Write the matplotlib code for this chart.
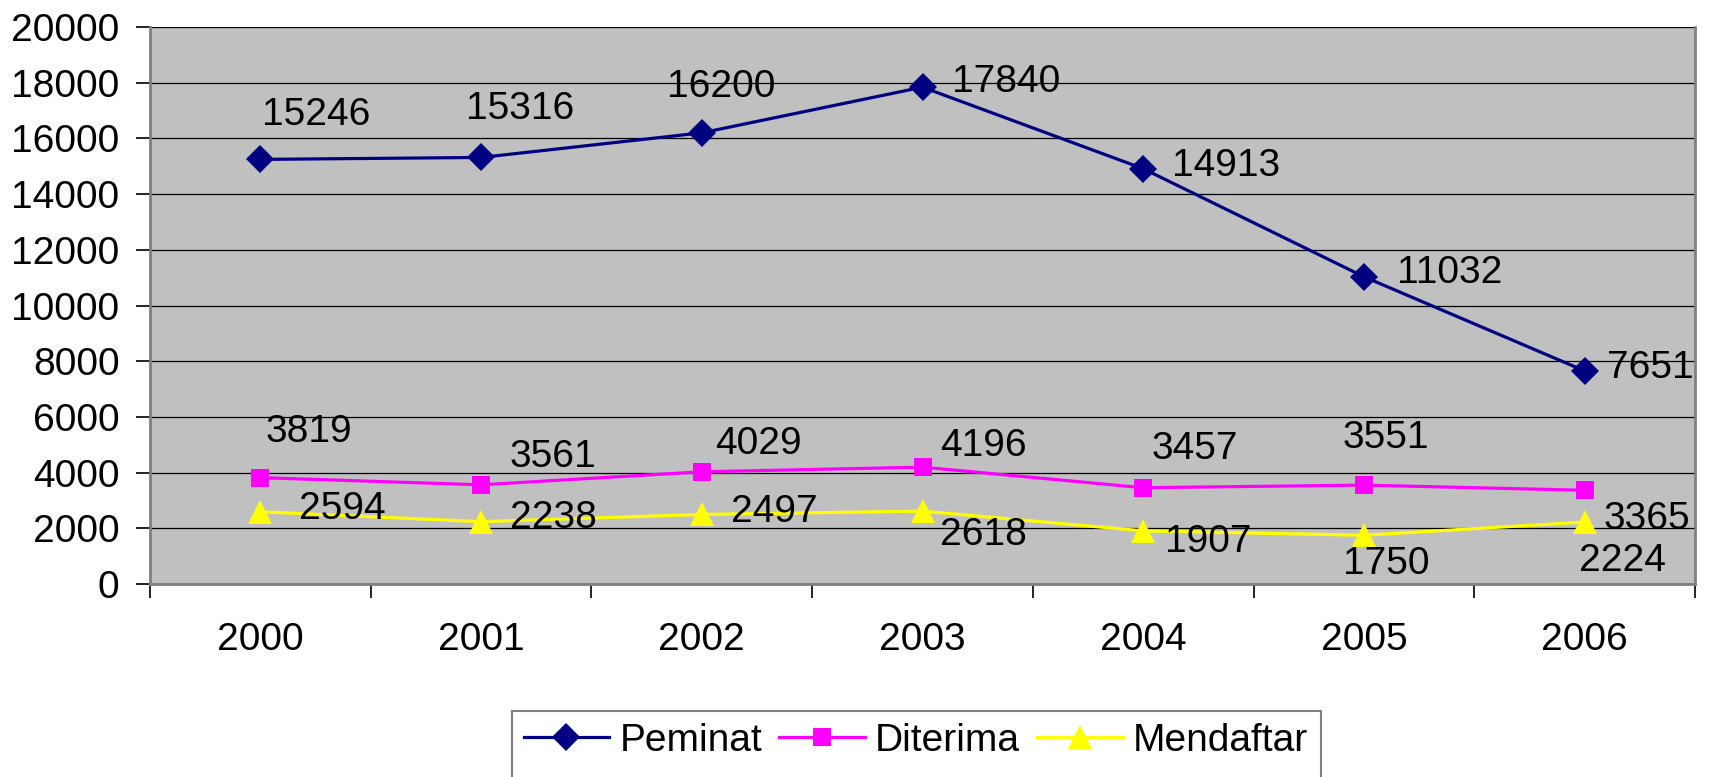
import matplotlib
matplotlib.use("Agg")
import matplotlib.pyplot as plt
from matplotlib.patches import Rectangle
import numpy as np

plt.rcParams['font.family'] = ['Liberation Sans', 'DejaVu Sans']

years = ["2000", "2001", "2002", "2003", "2004", "2005", "2006"]
peminat = [15246, 15316, 16200, 17840, 14913, 11032, 7651]
diterima = [3819, 3561, 4029, 4196, 3457, 3551, 3365]
mendaftar = [2594, 2238, 2497, 2618, 1907, 1750, 2224]
y_ticks = [0, 2000, 4000, 6000, 8000, 10000, 12000, 14000, 16000, 18000, 20000]

# label offsets (points) for data labels
off_peminat = [(40, 32), (28, 35), (14, 33), (60, 4), (60, 2), (62, 3), (47, 2)]
off_diterima = [(35, 33), (52, 20), (41, 20), (44, 15), (37, 28), (16, 34), (45, -21)]
off_mendaftar = [(59, 2), (52, 3), (52, 2), (44, -17), (47, -8), (16, -21), (27, -28)]

fig = plt.figure(figsize=(17.09, 7.77), dpi=100)
ax = fig.add_axes([150/1709, 1 - 584/777, (1695-150)/1709, (584-27)/777])
ax.set_facecolor('#C0C0C0')

x = np.arange(len(years))
series = [
    ("Peminat", peminat, '#000080', 'D', 14, off_peminat),
    ("Diterima", diterima, '#FF00FF', 's', 13, off_diterima),
    ("Mendaftar", mendaftar, '#FFFF00', '^', 17, off_mendaftar),
]
for name, vals, col, mk, ms, offs in series:
    ax.plot(x, vals, color=col, marker=mk, markersize=ms, linewidth=2.3,
            markeredgewidth=0, label=name, zorder=3)
    for xi, v, (dx, dy) in zip(x, vals, offs):
        ax.annotate(str(v), (xi, v), xytext=(dx, dy), textcoords='offset points',
                    ha='center', va='center', fontsize=28, color='black', zorder=4)

ax.set_xlim(-0.5, len(years) - 0.5)
ax.set_ylim(0, 20000)
ax.set_yticks(y_ticks)
ax.set_yticklabels([str(t) for t in y_ticks])
ax.yaxis.grid(True, color='black', linewidth=0.9)
ax.set_axisbelow(True)

ax.set_xticks(x)
ax.set_xticklabels(years)
ax.set_xticks(np.arange(-0.5, len(years) + 0.5, 1), minor=True)
ax.tick_params(axis='x', which='major', length=0, pad=27, labelsize=28)
ax.tick_params(axis='x', which='minor', length=10, width=1.2, color='black', direction='out')
ax.tick_params(axis='y', which='major', length=10, width=1.2, color='black', pad=12, labelsize=28)

for s in ['left', 'right', 'bottom']:
    ax.spines[s].set_color('#808080')
    ax.spines[s].set_linewidth(2)
ax.spines['top'].set_visible(False)

# legend box (extends below the figure edge as in the original)
box = Rectangle((512/1709, -0.05), (1321-512)/1709, (1 - 711/777) + 0.05,
                transform=fig.transFigure, facecolor='white', edgecolor='#808080',
                linewidth=1.5, zorder=0)
fig.patches.append(box)

leg = fig.legend(loc='upper left', bbox_to_anchor=(512/1709, 1 - 711/777), ncol=3,
                 fontsize=28, frameon=False,
                 handlelength=2.2, handletextpad=0.26, columnspacing=0.44,
                 borderpad=0.3, borderaxespad=0, markerscale=1.0)

fig.savefig('out.png', dpi=100)
